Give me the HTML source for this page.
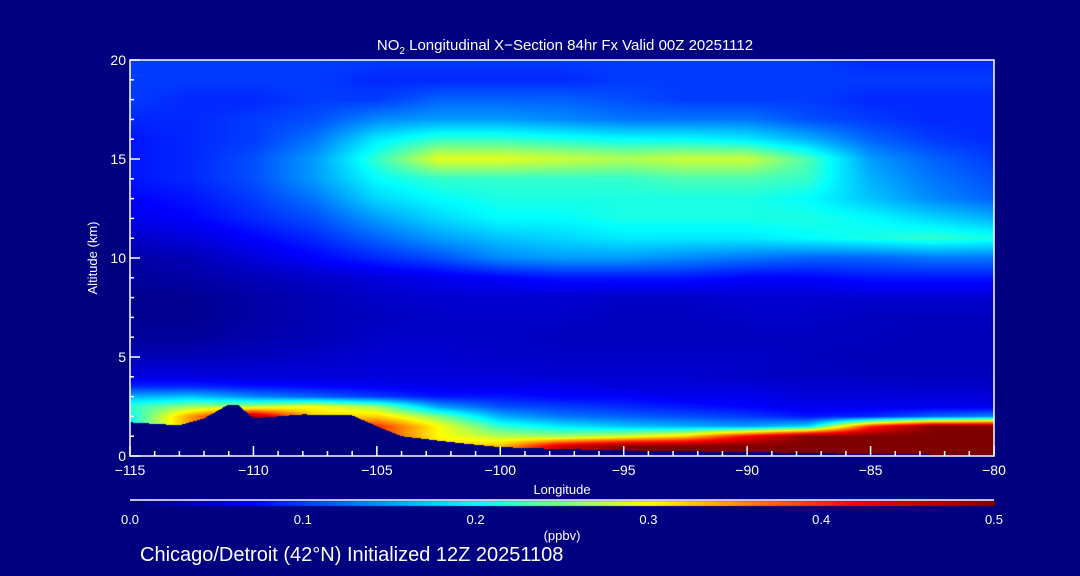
<!DOCTYPE html>
<html><head><meta charset="utf-8">
<style>
html,body{margin:0;padding:0;background:#000080;}
#wrap{position:relative;width:1080px;height:576px;overflow:hidden;background:#000080;font-family:"Liberation Sans",sans-serif;color:#fff;}
canvas{position:absolute;left:0;top:0;}
svg{position:absolute;left:0;top:0;}
</style></head>
<body>
<div id="wrap">
<canvas id="hm" width="1080" height="576"></canvas>
<svg id="ov" width="1080" height="576"></svg>
</div>
<script>
// ---- data ----
const lons = [-115,-112.5,-110,-107.5,-105,-102.5,-100,-97.5,-95,-92.5,-90,-87.5,-85,-82.5,-80];
const alts = [0,0.5,1,1.5,2,2.5,3,3.5,4,5,6,7,8,9,10,11,12,13,14,15,16,17,18,19,20];
const no2 = [
[0.20,0.35,0.50,0.40,0.40,0.32,0.35,0.46,0.50,0.50,0.50,0.50,0.50,0.50,0.50],
[0.20,0.35,0.50,0.40,0.40,0.32,0.33,0.45,0.50,0.50,0.50,0.50,0.50,0.50,0.50],
[0.20,0.35,0.50,0.40,0.40,0.30,0.27,0.26,0.28,0.32,0.42,0.50,0.50,0.50,0.50],
[0.20,0.35,0.50,0.40,0.40,0.30,0.22,0.19,0.17,0.16,0.15,0.18,0.40,0.50,0.50],
[0.20,0.35,0.48,0.32,0.32,0.25,0.16,0.13,0.12,0.11,0.10,0.08,0.09,0.12,0.14],
[0.22,0.26,0.27,0.30,0.26,0.15,0.11,0.10,0.09,0.08,0.07,0.06,0.06,0.06,0.06],
[0.16,0.17,0.14,0.12,0.10,0.08,0.08,0.07,0.07,0.06,0.06,0.05,0.05,0.05,0.05],
[0.09,0.09,0.08,0.075,0.065,0.06,0.06,0.06,0.05,0.05,0.05,0.045,0.045,0.04,0.04],
[0.055,0.055,0.05,0.05,0.05,0.05,0.05,0.045,0.045,0.045,0.04,0.035,0.035,0.035,0.035],
[0.03,0.03,0.035,0.04,0.045,0.045,0.04,0.04,0.04,0.04,0.04,0.035,0.03,0.03,0.03],
[0.015,0.015,0.025,0.03,0.04,0.04,0.04,0.035,0.035,0.035,0.035,0.035,0.035,0.03,0.03],
[0.01,0.01,0.02,0.03,0.035,0.04,0.04,0.04,0.035,0.035,0.04,0.04,0.035,0.035,0.035],
[0.01,0.01,0.02,0.03,0.04,0.045,0.045,0.045,0.04,0.04,0.045,0.045,0.045,0.045,0.045],
[0.015,0.02,0.03,0.04,0.05,0.06,0.07,0.08,0.08,0.08,0.07,0.07,0.08,0.08,0.08],
[0.02,0.03,0.05,0.07,0.09,0.11,0.14,0.15,0.15,0.14,0.13,0.12,0.12,0.13,0.13],
[0.04,0.05,0.07,0.09,0.12,0.15,0.17,0.18,0.19,0.19,0.19,0.20,0.21,0.22,0.21],
[0.06,0.07,0.09,0.11,0.15,0.18,0.20,0.20,0.21,0.21,0.21,0.21,0.20,0.18,0.16],
[0.07,0.08,0.10,0.13,0.18,0.20,0.21,0.21,0.21,0.21,0.21,0.20,0.17,0.14,0.12],
[0.08,0.09,0.11,0.15,0.20,0.22,0.22,0.22,0.22,0.23,0.23,0.22,0.16,0.13,0.11],
[0.08,0.09,0.11,0.15,0.22,0.29,0.29,0.28,0.27,0.28,0.28,0.23,0.15,0.12,0.10],
[0.08,0.09,0.10,0.13,0.19,0.22,0.22,0.21,0.20,0.20,0.19,0.16,0.12,0.10,0.09],
[0.09,0.09,0.10,0.11,0.14,0.15,0.15,0.14,0.13,0.13,0.13,0.11,0.10,0.09,0.09],
[0.10,0.09,0.09,0.10,0.10,0.12,0.12,0.12,0.11,0.10,0.10,0.10,0.09,0.09,0.09],
[0.10,0.10,0.10,0.10,0.09,0.09,0.09,0.09,0.10,0.10,0.10,0.10,0.10,0.10,0.10],
[0.10,0.10,0.10,0.10,0.10,0.10,0.10,0.10,0.10,0.10,0.10,0.10,0.09,0.09,0.09]
];
const terrainLon = [-115,-113,-112,-111,-110.6,-110,-108,-106,-105,-104,-102,-100,-97.5,-95,-90,-85,-80];
const terrainAlt = [1.7,1.55,1.9,2.6,2.55,1.9,2.1,2.05,1.5,1.0,0.7,0.45,0.35,0.28,0.2,0.1,0.05];
const xTicks = [-115,-110,-105,-100,-95,-90,-85,-80];
const yTicks = [0,5,10,15,20];
const cbTicks = [0.0,0.1,0.2,0.3,0.4,0.5];

// ---- layout ----
const PX0=130,PX1=994,PY0=60,PY1=456;
const xs = lon => PX0 + (lon+115)/35*(PX1-PX0);
const ys = a => PY1 - a/20*(PY1-PY0);
const stops=[[0,[0,0,128]],[0.07,[0,0,255]],[0.2,[0,255,255]],[0.25,[128,255,128]],[0.3,[255,255,0]],[0.42,[255,0,0]],[0.5,[128,0,0]]];
function cmap(v){
  v=Math.max(0,Math.min(0.5,v));
  for(let i=1;i<stops.length;i++){ if(v<=stops[i][0]){const a=stops[i-1],b=stops[i];const t=(v-a[0])/(b[0]-a[0]);
    return a[1].map((c,k)=>Math.round(c+(b[1][k]-c)*t));}}
  return stops[stops.length-1][1];
}
function idx(arr,v){let i=0;while(i<arr.length-2&&arr[i+1]<v)i++;return i;}
function field(lon,alt){
  const i=idx(lons,lon),j=idx(alts,alt);
  const tx=Math.max(0,Math.min(1,(lon-lons[i])/(lons[i+1]-lons[i])));
  const ty=Math.max(0,Math.min(1,(alt-alts[j])/(alts[j+1]-alts[j])));
  const a=no2[j][i],b=no2[j][i+1],c=no2[j+1][i],d=no2[j+1][i+1];
  return (a*(1-tx)+b*tx)*(1-ty)+(c*(1-tx)+d*tx)*ty;
}
function terrain(lon){const i=idx(terrainLon,lon);const t=(lon-terrainLon[i])/(terrainLon[i+1]-terrainLon[i]);
  return terrainAlt[i]+(terrainAlt[i+1]-terrainAlt[i])*Math.max(0,Math.min(1,t));}
const cv=document.getElementById('hm');const ctx=cv.getContext('2d');
const W=PX1-PX0,H=PY1-PY0;const img=ctx.createImageData(W,H);
for(let py=0;py<H;py++){for(let px=0;px<W;px++){
  const lon=-115+(px+0.5)/W*35, alt=(H-py-0.5)/H*20;
  let c=alt<terrain(lon)?[0,0,128]:cmap(field(lon,alt));
  const o=(py*W+px)*4;img.data[o]=c[0];img.data[o+1]=c[1];img.data[o+2]=c[2];img.data[o+3]=255;}}
ctx.putImageData(img,PX0,PY0);
// colorbar
for(let x=PX0;x<=PX1;x++){const c=cmap((x-PX0)/(PX1-PX0)*0.5);ctx.fillStyle=`rgb(${c[0]},${c[1]},${c[2]})`;ctx.fillRect(x,501,1,5);}

// ---- overlay ----
const NS='http://www.w3.org/2000/svg';const ov=document.getElementById('ov');
function mk(tag,attrs,parent){const e=document.createElementNS(NS,tag);for(const k in attrs)e.setAttribute(k,attrs[k]);(parent||ov).appendChild(e);return e;}
let e;
e=mk('rect',{x:PX0,y:PY0,width:W,height:H,fill:'none',stroke:'#fff','stroke-width':1.5});


for(let l=-115;l<=-80;l++){const major=l%5===0;
  e=mk('line',{x1:xs(l),x2:xs(l),y1:PY1,y2:PY1-(major?10:5),stroke:'#fff','stroke-width':1.5});
  
  }
xTicks.forEach(l=>{e=mk('text',{x:xs(l),y:475,fill:'#fff','font-size':14,'text-anchor':'middle'});e.textContent=(l<0?'\u2212':'')+Math.abs(l);
  
  });
for(let a=0;a<=20;a++){const major=a%5===0;
  e=mk('line',{x1:PX0,x2:PX0+(major?10:4),y1:ys(a),y2:ys(a),stroke:'#fff','stroke-width':1.5});
  
  }
yTicks.forEach(a=>{e=mk('text',{x:126,y:ys(a)+5,fill:'#fff','font-size':14,'text-anchor':'end'});e.textContent=a;
  
  });
e=mk('line',{x1:PX0,x2:PX1,y1:500,y2:500,stroke:'#fff','stroke-width':1.5});


cbTicks.forEach(v=>{e=mk('text',{x:PX0+v/0.5*W,y:524,fill:'#fff','font-size':13,'text-anchor':'middle'});e.textContent=v.toFixed(1);
  
  });
</script>
<svg width="1080" height="576" style="position:absolute;left:0;top:0">
<text x="565" y="50" fill="#fff" font-size="15" text-anchor="middle" font-family="Liberation Sans">NO<tspan font-size="10" dy="4">2</tspan><tspan dy="-4"> Longitudinal X−Section 84hr  Fx Valid 00Z 20251112</tspan></text>
<text x="562" y="494" fill="#fff" font-size="13" text-anchor="middle" font-family="Liberation Sans">Longitude</text>
<text x="97" y="258" fill="#fff" font-size="13" text-anchor="middle" font-family="Liberation Sans" transform="rotate(-90 97 258)">Altitude (km)</text>
<text x="562" y="540" fill="#fff" font-size="13" text-anchor="middle" font-family="Liberation Sans">(ppbv)</text>
<text x="140" y="561" fill="#fff" font-size="20" font-family="Liberation Sans">Chicago/Detroit (42°N) Initialized 12Z 20251108</text>
</svg>
</body></html>
